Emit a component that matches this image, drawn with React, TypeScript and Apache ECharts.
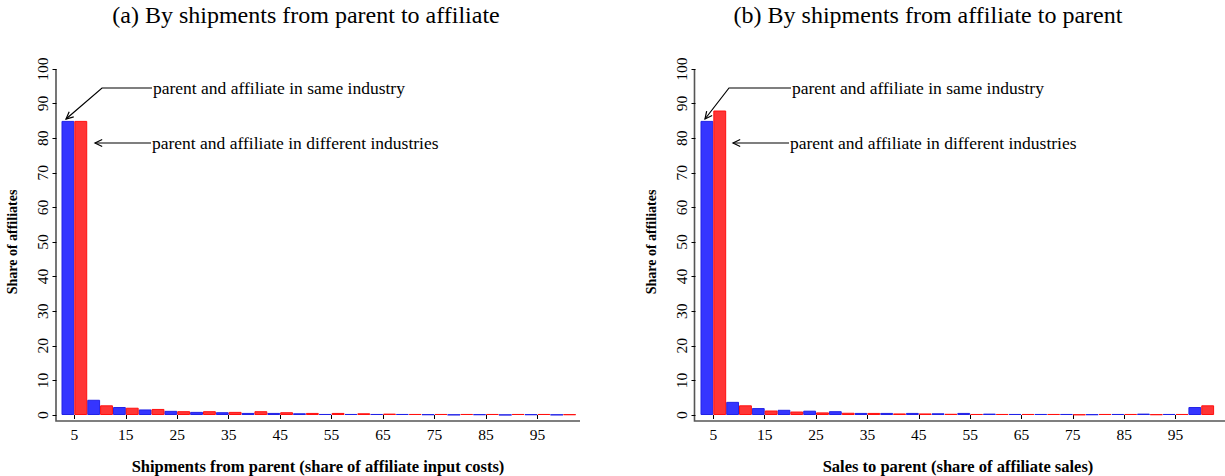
import React, { useEffect, useRef } from "react";
import * as echarts from "echarts";

// Bin labels (upper edge of each 5-point bin); every other one is printed
const binLabels = [
  "5", "10", "15", "20", "25", "30", "35", "40", "45", "50",
  "55", "60", "65", "70", "75", "80", "85", "90", "95", "100",
];

// (a) shipments from parent, share of affiliate input costs
const sameIndustryA = [85, 4.4, 2.3, 1.6, 1.2, 0.9, 0.8, 0.6, 0.6, 0.5, 0.3, 0.3, 0.3, 0.3, 0.2, 0.1, 0.2, 0.05, 0.2, 0.1];
const diffIndustryA = [85, 2.8, 2.1, 1.75, 1.1, 1.1, 0.9, 1.1, 0.8, 0.6, 0.6, 0.5, 0.4, 0.3, 0.3, 0.3, 0.3, 0.3, 0.3, 0.2];

// (b) sales to parent, share of affiliate sales
const sameIndustryB = [85, 3.8, 2.0, 1.5, 1.25, 1.1, 0.6, 0.6, 0.6, 0.5, 0.6, 0.4, 0.3, 0.3, 0.3, 0.2, 0.3, 0.4, 0.3, 2.3];
const diffIndustryB = [88, 2.8, 1.3, 1.0, 0.75, 0.65, 0.6, 0.45, 0.45, 0.35, 0.3, 0.3, 0.3, 0.3, 0.15, 0.3, 0.3, 0.2, 0.3, 2.8];

const panelTitles = [
  "(a) By shipments from parent to affiliate",
  "(b) By shipments from affiliate to parent",
];
const xAxisNames = [
  "Shipments from parent (share of affiliate input costs)",
  "Sales to parent (share of affiliate sales)",
];
const yAxisName = "Share of affiliates";
const sameLabel = "parent and affiliate in same industry";
const diffLabel = "parent and affiliate in different industries";

const FONT = "'Liberation Serif', 'DejaVu Serif', serif";
const BLUE = "#3535ff";
const BLUE_EDGE = "#2222e6";
const RED = "#ff3535";
const RED_EDGE = "#ff1010";

// panel geometry
const GRID_TOP = 69;
const GRID_H = 346;
const panels = [
  { left: 61.5, width: 514.5, axisX: 56, axisEnd: 580, titleX: 306, nameX: 318 },
  { left: 700.5, width: 513.6, axisX: 694.5, axisEnd: 1225, titleX: 928, nameX: 958 },
];

function arrow(points: number[][]) {
  const n = points.length;
  const [x1, y1] = points[n - 2];
  const [x2, y2] = points[n - 1];
  const ang = Math.atan2(y2 - y1, x2 - x1);
  const len = 8;
  const spread = 0.45;
  const w1 = [x2 - len * Math.cos(ang - spread), y2 - len * Math.sin(ang - spread)];
  const w2 = [x2 - len * Math.cos(ang + spread), y2 - len * Math.sin(ang + spread)];
  const lineStyle = { stroke: "#000", lineWidth: 1.2, fill: null };
  return [
    { type: "polyline", shape: { points }, style: lineStyle, silent: true },
    { type: "polyline", shape: { points: [w1, [x2, y2], w2] }, style: lineStyle, silent: true },
  ];
}

export default function App() {
  const ref = useRef<HTMLDivElement>(null);

  useEffect(() => {
    document.body.style.margin = "0";
    if (!ref.current) return;
    const chart = echarts.init(ref.current, null, { renderer: "svg" });

    const axisColor = "#555";
    const graphic: any[] = [];

    panels.forEach((p, i) => {
      // L-shaped axis frame
      graphic.push({
        type: "polyline",
        shape: { points: [[p.axisX, GRID_TOP], [p.axisX, GRID_TOP + GRID_H + 6], [p.axisEnd, GRID_TOP + GRID_H + 6]] },
        style: { stroke: axisColor, lineWidth: 1.6, fill: null },
        silent: true,
      });
      graphic.push({
        type: "text",
        x: p.titleX,
        y: 15,
        style: { text: panelTitles[i], font: `24px ${FONT}`, fill: "#000", align: "center", verticalAlign: "middle" },
      });
      graphic.push({
        type: "text",
        x: p.nameX,
        y: 466,
        style: { text: xAxisNames[i], font: `bold 16.5px ${FONT}`, fill: "#000", align: "center", verticalAlign: "middle" },
      });
    });

    // annotation arrows and captions
    const notes = [
      { textX: 153, elbowX: 102, tip: [66, 119] },
      { textX: 792, elbowX: 729, tip: [705, 119] },
    ];
    const notes2 = [
      { textX: 152, tipX: 95 },
      { textX: 790, tipX: 733 },
    ];
    notes.forEach((n) => {
      graphic.push(...arrow([[n.textX - 1, 88], [n.elbowX, 88], n.tip]));
      graphic.push({
        type: "text",
        x: n.textX,
        y: 88,
        style: { text: sameLabel, font: `17.5px ${FONT}`, fill: "#000", align: "left", verticalAlign: "middle" },
      });
    });
    notes2.forEach((n) => {
      graphic.push(...arrow([[n.textX - 1, 143], [n.tipX, 143]]));
      graphic.push({
        type: "text",
        x: n.textX,
        y: 143,
        style: { text: diffLabel, font: `17.5px ${FONT}`, fill: "#000", align: "left", verticalAlign: "middle" },
      });
    });

    const barSeries = (data: number[], idx: number, color: string, edge: string, name: string) => ({
      type: "bar",
      name,
      xAxisIndex: idx,
      yAxisIndex: idx,
      data,
      barGap: "0%",
      barCategoryGap: "0%",
      itemStyle: { color, borderColor: edge, borderWidth: 1 },
      emphasis: { disabled: true },
    });

    chart.setOption({
      animation: false,
      backgroundColor: "#fff",
      grid: panels.map((p) => ({ left: p.left, top: GRID_TOP, width: p.width, height: GRID_H })),
      xAxis: panels.map((_, i) => ({
        type: "category",
        gridIndex: i,
        data: binLabels,
        offset: 6,
        axisLine: { show: false },
        axisTick: { show: true, alignWithLabel: true, interval: 1, length: 4, lineStyle: { color: "#000" } },
        axisLabel: { interval: 1, fontFamily: FONT, fontSize: 15.5, color: "#000", margin: 5 },
        splitLine: { show: false },
      })),
      yAxis: panels.map((_, i) => ({
        type: "value",
        gridIndex: i,
        min: 0,
        max: 100,
        interval: 10,
        offset: 5,
        axisLine: { show: false },
        axisTick: { show: true, length: 4, lineStyle: { color: "#000" } },
        axisLabel: { rotate: 90, fontFamily: FONT, fontSize: 15.5, color: "#000", margin: 6 },
        splitLine: { show: false },
        name: yAxisName,
        nameLocation: "middle",
        nameRotate: 90,
        nameGap: 37,
        nameTextStyle: { fontFamily: FONT, fontWeight: "bold", fontSize: 14, color: "#000" },
      })),
      series: [
        barSeries(sameIndustryA, 0, BLUE, BLUE_EDGE, sameLabel),
        barSeries(diffIndustryA, 0, RED, RED_EDGE, diffLabel),
        barSeries(sameIndustryB, 1, BLUE, BLUE_EDGE, sameLabel),
        barSeries(diffIndustryB, 1, RED, RED_EDGE, diffLabel),
      ],
      graphic,
    });

    return () => chart.dispose();
  }, []);

  return <div ref={ref} style={{ width: 1225, height: 476 }} />;
}
